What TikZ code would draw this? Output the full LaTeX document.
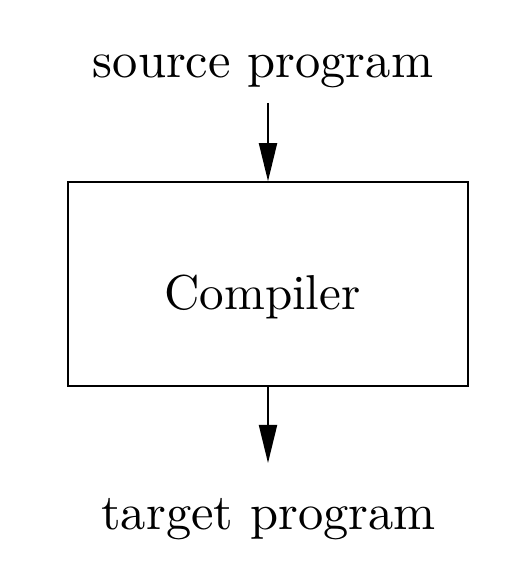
\documentclass[tikz,border=0pt]{standalone}
\usetikzlibrary{arrows.meta}
\newcommand{\biglbl}[2]{\scalebox{#1}{\fontsize{10}{12}\selectfont #2}}
\begin{document}
\begin{tikzpicture}[x=1pt,y=1pt,
  lbl/.style={anchor=base,inner sep=0pt},
  boxstyle/.style={draw,line width=1.6pt,minimum width=400pt,minimum height=204pt,inner sep=0pt},
  arr/.style={line width=2pt,-{Triangle[length=38pt,width=18pt]}}]
\useasboundingbox (0,0) rectangle (528,584);
\node[lbl] (src) at (263,506) {\biglbl{5.05}{source program}};
\node[boxstyle] (comp) at (268,300) {};
\node[lbl] (clbl) at (262.5,274) {\biglbl{4.9}{Compiler}};
\node[lbl] (tgt) at (268.5,54) {\biglbl{5.05}{target program}};
\coordinate (a1) at (268,481);
\coordinate (a2) at (268,121);
\draw[arr] (a1) -- (comp.north);
\draw[arr] (comp.south) -- (a2);
\end{tikzpicture}
\end{document}
